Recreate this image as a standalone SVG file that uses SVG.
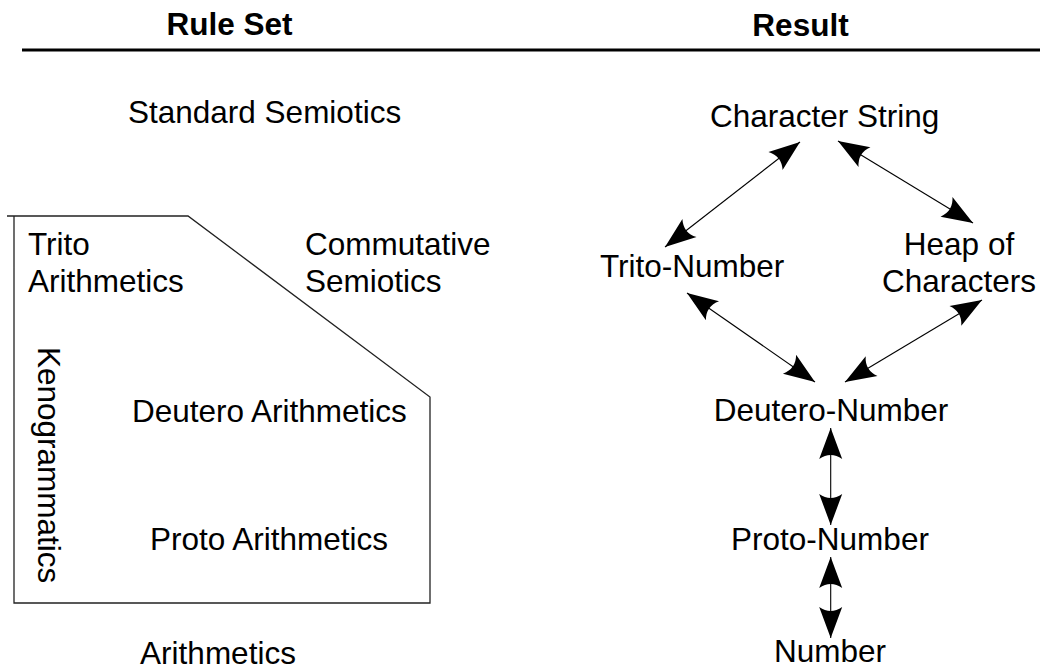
<svg xmlns="http://www.w3.org/2000/svg" width="1040" height="672" viewBox="0 0 1040 672">
<style>
text{font-family:"Liberation Sans",Arial,sans-serif;font-size:31.5px;fill:#000}
.h{font-weight:bold}
.m{text-anchor:middle}
.c{stroke:#000;stroke-width:1.1;fill:none}
</style>
<defs>
<marker id="ah" viewBox="-33 -13 34 26" refX="0" refY="0" markerWidth="34" markerHeight="26" markerUnits="userSpaceOnUse" orient="auto-start-reverse">
<path d="M0,0 L-31,-11.5 Q-23,0 -31,11.5 Z" fill="#000"/>
</marker>
</defs>
<rect width="1040" height="672" fill="#fff"/>
<g id="header">
<text class="h m" x="229.5" y="35">Rule Set</text>
<text class="h m" x="800.5" y="36">Result</text>
<line x1="22" y1="50" x2="1040" y2="50" stroke="#000" stroke-width="3"/>
</g>
<g id="ruleset-box">
<path d="M7,216 H188 L430,397 V603 H14 V216" fill="none" stroke="#222" stroke-width="1.3"/>
</g>
<g id="standard-semiotics"><text x="128" y="123">Standard Semiotics</text></g>
<g id="trito-arithmetics"><text x="28" y="255">Trito</text><text x="28" y="292">Arithmetics</text></g>
<g id="commutative-semiotics"><text x="305" y="255">Commutative</text><text x="305" y="292">Semiotics</text></g>
<g id="kenogrammatics"><text transform="translate(38,347) rotate(90)">Kenogrammatics</text></g>
<g id="deutero-arithmetics"><text x="132" y="422">Deutero Arithmetics</text></g>
<g id="proto-arithmetics"><text x="150" y="550">Proto Arithmetics</text></g>
<g id="arithmetics"><text class="m" x="218" y="664">Arithmetics</text></g>
<g id="character-string"><text x="710" y="127">Character String</text></g>
<g id="trito-number"><text x="600" y="277">Trito-Number</text></g>
<g id="heap-of-characters"><text class="m" x="959" y="255">Heap of</text><text class="m" x="959" y="292">Characters</text></g>
<g id="deutero-number"><text class="m" x="831" y="421">Deutero-Number</text></g>
<g id="proto-number"><text class="m" x="830" y="550">Proto-Number</text></g>
<g id="number"><text class="m" x="830" y="662">Number</text></g>
<g id="connectors">
<line class="c" x1="800" y1="142" x2="665" y2="247" marker-start="url(#ah)" marker-end="url(#ah)"/>
<line class="c" x1="838" y1="141" x2="973" y2="223" marker-start="url(#ah)" marker-end="url(#ah)"/>
<line class="c" x1="687" y1="293" x2="815" y2="382" marker-start="url(#ah)" marker-end="url(#ah)"/>
<line class="c" x1="982" y1="300" x2="845" y2="382" marker-start="url(#ah)" marker-end="url(#ah)"/>
<line class="c" x1="830.7" y1="428" x2="830.7" y2="525" marker-start="url(#ah)" marker-end="url(#ah)"/>
<line class="c" x1="830.7" y1="557" x2="830.7" y2="638" marker-start="url(#ah)" marker-end="url(#ah)"/>
</g>
</svg>
